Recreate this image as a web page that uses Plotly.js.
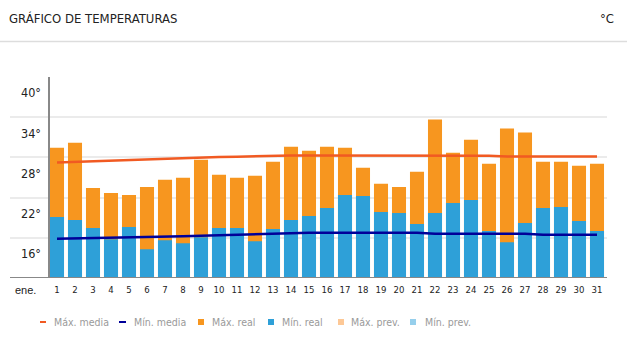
<!DOCTYPE html>
<html>
<head>
<meta charset="utf-8">
<script src="https://cdn.plot.ly/plotly-3.0.1.min.js"></script>
<style>html,body{margin:0;padding:0;background:#fff;}#chart{width:627px;height:350px;}</style>
</head>
<body>
<div id="chart"></div>
<script>
// ---- data ----
const days = [1,2,3,4,5,6,7,8,9,10,11,12,13,14,15,16,17,18,19,20,21,22,23,24,25,26,27,28,29,30,31];
const dayLabels = days.map(String);
const maxReal = [29.45,30.2,23.45,22.7,22.4,23.6,24.65,24.95,27.65,25.4,24.95,25.25,27.35,29.6,29.0,29.6,29.45,26.45,24.05,23.6,25.85,33.65,28.7,30.65,27.05,32.3,31.7,27.35,27.35,26.75,27.05];
const minReal = [19.1,18.65,17.45,15.8,17.6,14.3,15.65,15.2,16.1,17.45,17.45,15.5,17.3,18.65,19.25,20.45,22.4,22.25,19.85,19.7,18.05,19.7,21.2,21.65,17.0,15.35,18.2,20.45,20.6,18.5,17.0];
const maxMedia = [27.25,27.35,27.45,27.5,27.6,27.7,27.8,27.85,27.95,28.05,28.1,28.2,28.3,28.3,28.3,28.3,28.3,28.3,28.3,28.3,28.3,28.3,28.3,28.3,28.25,28.15,28.15,28.15,28.15,28.15,28.15];
const minMedia = [15.85,15.92,16.0,16.05,16.1,16.15,16.2,16.25,16.3,16.38,16.45,16.55,16.62,16.7,16.75,16.75,16.75,16.75,16.75,16.75,16.75,16.6,16.6,16.6,16.6,16.6,16.6,16.45,16.45,16.45,16.45];
const yTicks = [16,22,28,34,40];
const yTickLabels = ['16°','22°','28°','34°','40°'];
const monthLabel = 'ene.';
const titleText = 'GRÁFICO DE TEMPERATURAS';
const unitText = '°C';
const legendNames = ['Máx. media','Mín. media','Máx. real','Mín. real','Máx. prev.','Mín. prev.'];

// ---- styles ----
const C_MAXREAL = '#F7961F', C_MINREAL = '#2EA0D8';
const C_MAXMED = '#F15A22', C_MINMED = '#000099';
const C_MAXPREV = '#FDC896', C_MINPREV = '#96CFEC';
const NARROW = '"DejaVu Sans Condensed", "Liberation Sans Narrow", sans-serif';
const SANS = '"Liberation Sans", Arial, sans-serif';

// layout pixel helpers (plot area: x 10..607, y 77..278)
const PL = 10, PR = 607, PT = 77, PB = 278;
const px = x => (x - PL) / (PR - PL);
const py = y => (PB - y) / (PB - PT);

const traces = [
  {type:'bar', x:days, y:maxReal, name:legendNames[2], marker:{color:C_MAXREAL}, width:0.78, hoverinfo:'skip', showlegend:false},
  {type:'bar', x:days, y:minReal, name:legendNames[3], marker:{color:C_MINREAL}, width:0.78, hoverinfo:'skip', showlegend:false},
  {type:'scatter', mode:'lines', x:days, y:maxMedia, name:legendNames[0], line:{color:C_MAXMED, width:2.5}, hoverinfo:'skip', showlegend:false},
  {type:'scatter', mode:'lines', x:days, y:minMedia, name:legendNames[1], line:{color:C_MINMED, width:2.5}, hoverinfo:'skip', showlegend:false}
];

const shapes = [
  // header separator
  {type:'line', xref:'paper', yref:'paper', x0:px(0), x1:px(627), y0:py(41.5), y1:py(41.5), line:{color:'#dddddd', width:1.5}},
  // baseline
  {type:'line', xref:'paper', yref:'y', x0:0, x1:1, y0:10, y1:10, line:{color:'#888888', width:2}, layer:'above'},
  // y axis line
  {type:'line', xref:'paper', yref:'paper', x0:px(49), x1:px(49), y0:0, y1:1, line:{color:'#888888', width:2}, layer:'above'}
];
const annotations = [
  {xref:'paper', yref:'paper', x:px(7), y:py(19), xanchor:'left', yanchor:'middle', text:titleText, showarrow:false, font:{family:NARROW, size:13, color:'#222'}},
  {xref:'paper', yref:'paper', x:px(616), y:py(19), xanchor:'right', yanchor:'middle', text:unitText, showarrow:false, font:{family:NARROW, size:13, color:'#222'}},
  {xref:'paper', yref:'paper', x:px(13), y:py(290), xanchor:'left', yanchor:'middle', text:monthLabel, showarrow:false, font:{family:SANS, size:11, color:'#222'}}
];
// manual legend
const legItems = [
  {kind:'line', color:C_MAXMED, x0:40, x1:46, tx:52},
  {kind:'line', color:C_MINMED, x0:119, x1:126, tx:132},
  {kind:'sq', color:C_MAXREAL, x0:198, x1:204, tx:210},
  {kind:'sq', color:C_MINREAL, x0:268, x1:274, tx:280},
  {kind:'sq', color:C_MAXPREV, x0:338, x1:344, tx:349},
  {kind:'sq', color:C_MINPREV, x0:410, x1:416, tx:423}
];
const LY = 322;
legItems.forEach((it, i) => {
  if (it.kind === 'line') {
    shapes.push({type:'line', xref:'paper', yref:'paper', x0:px(it.x0), x1:px(it.x1), y0:py(LY), y1:py(LY), line:{color:it.color, width:2}});
  } else {
    shapes.push({type:'rect', xref:'paper', yref:'paper', x0:px(it.x0), x1:px(it.x1), y0:py(LY-3), y1:py(LY+3), line:{width:0}, fillcolor:it.color});
  }
  annotations.push({xref:'paper', yref:'paper', x:px(it.tx), y:py(LY), xanchor:'left', yanchor:'middle', text:legendNames[i], showarrow:false, font:{family:NARROW, size:10.5, color:'#9a9a9a'}});
});

const layout = {
  width:627, height:350,
  margin:{l:PL, r:627-PR, t:PT, b:350-PB, pad:0},
  paper_bgcolor:'#fff', plot_bgcolor:'#fff',
  barmode:'overlay', showlegend:false,
  xaxis:{range:[1-47/18, 31+10/18], tickvals:days, ticktext:dayLabels, showgrid:false, zeroline:false, showline:false, ticks:'', ticklabelstandoff:4, tickfont:{family:NARROW, size:9.5, color:'#222'}, fixedrange:true},
  yaxis:{range:[10,40], tickvals:yTicks, ticktext:yTickLabels, showgrid:true, gridcolor:'#ebebeb', gridwidth:2, zeroline:false, showline:false, ticks:'', ticklabelposition:'inside', ticklabelshift:16, ticklabelstandoff:8, tickfont:{family:NARROW, size:12.5, color:'#222'}, fixedrange:true},
  shapes:shapes, annotations:annotations
};
Plotly.newPlot('chart', traces, layout, {displayModeBar:false, staticPlot:true});
</script>
</body>
</html>
